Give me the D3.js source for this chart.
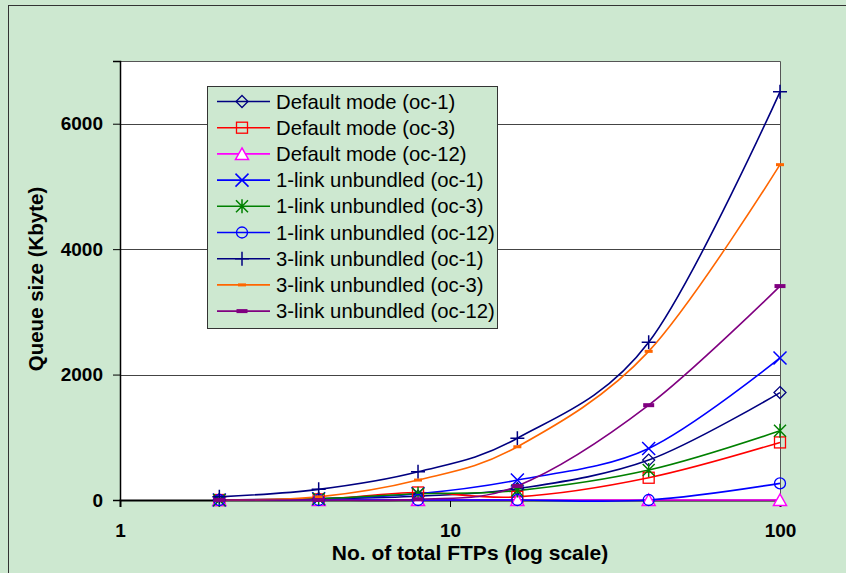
<!DOCTYPE html>
<html>
<head>
<meta charset="utf-8">
<script src="https://cdn.jsdelivr.net/npm/d3@7/dist/d3.min.js"></script>
<style>
  html, body { margin: 0; padding: 0; background: #cde8d0; }
  svg { display: block; }
  text { font-family: "Liberation Sans", Arial, sans-serif; }
</style>
</head>
<body>
<svg id="chart" width="846" height="573"></svg>
<script>
// Number of FTP sessions (x, log scale)
const ftps = [2, 4, 8, 16, 40, 100];

// Queue size in Kbyte for each configuration
const defaultOc1  = [0, 20, 60, 180, 636, 1713];
const defaultOc3  = [0, 10, 120, 50, 355, 918];
const defaultOc12 = [0, 0, 0, 0, 0, 0];
const unb1Oc1     = [0, 20, 100, 318, 822, 2265];
const unb1Oc3     = [0, 20, 100, 150, 477, 1103];
const unb1Oc12    = [0, 0, 0, 0, 0, 265];
const unb3Oc1     = [50, 170, 450, 985, 2514, 6508];
const unb3Oc3     = [0, 50, 318, 849, 2370, 5347];
const unb3Oc12    = [0, 0, 10, 223, 1512, 3411];

const seriesNames = [
  "Default mode (oc-1)", "Default mode (oc-3)", "Default mode (oc-12)",
  "1-link unbundled (oc-1)", "1-link unbundled (oc-3)", "1-link unbundled (oc-12)",
  "3-link unbundled (oc-1)", "3-link unbundled (oc-3)", "3-link unbundled (oc-12)"
];
const seriesValues = [defaultOc1, defaultOc3, defaultOc12, unb1Oc1, unb1Oc3, unb1Oc12, unb3Oc1, unb3Oc3, unb3Oc12];
const seriesColors = ["#000080", "#ff0000", "#ff00ff", "#0000ff", "#008000", "#0000ff", "#000080", "#ff6600", "#800080"];
const seriesMarkers = ["diamond", "square", "triangle", "x", "asterisk", "circle", "plus", "dash", "bar"];

const xTicks = [1, 10, 100];
const yTicks = [0, 2000, 4000, 6000];

const svg = d3.select("#chart");
const plot = { left: 120, top: 61, right: 780, bottom: 500 };

// chart area frame
svg.append("rect")
  .attr("x", 8.5).attr("y", 5.5).attr("width", 900).attr("height", 700)
  .attr("fill", "#cde8d0").attr("stroke", "#333").attr("stroke-width", 1);

const x = d3.scaleLog().domain([1, 100]).range([plot.left, plot.right]);
const y = d3.scaleLinear().domain([0, 7000]).range([plot.bottom, plot.top]);

// plot area
svg.append("rect")
  .attr("x", plot.left).attr("y", plot.top)
  .attr("width", plot.right - plot.left).attr("height", plot.bottom - plot.top)
  .attr("fill", "#ffffff");

// horizontal gridlines
svg.append("g").selectAll("line")
  .data(yTicks.filter(d => d > 0))
  .join("line")
  .attr("x1", plot.left).attr("x2", plot.right)
  .attr("y1", d => Math.round(y(d)) + 0.5).attr("y2", d => Math.round(y(d)) + 0.5)
  .attr("stroke", "#444").attr("stroke-width", 1);

// plot border (top and right)
svg.append("path")
  .attr("d", `M${plot.left},${plot.top + 0.5}H${plot.right + 0.5}V${plot.bottom}`)
  .attr("fill", "none").attr("stroke", "#555").attr("stroke-width", 1);

// y axis
const yAxis = d3.axisLeft(y).tickValues(yTicks).tickSize(7).tickPadding(10).tickFormat(d3.format("d"));
const gy = svg.append("g").attr("transform", `translate(${plot.left},0)`).call(yAxis);
gy.select(".domain").attr("stroke", "#000").attr("stroke-width", 1.5);
gy.selectAll(".tick line").attr("stroke", "#000");
gy.selectAll(".tick text")
  .attr("font-family", "Liberation Sans, Arial, sans-serif")
  .attr("font-size", 19).attr("font-weight", "bold").attr("fill", "#000");

// x axis
const xAxis = d3.axisBottom(x).tickValues(xTicks).tickSize(7).tickPadding(17).tickFormat(d3.format("d"));
const gx = svg.append("g").attr("transform", `translate(0,${plot.bottom})`).call(xAxis);
gx.select(".domain").attr("stroke", "#000").attr("stroke-width", 2);
gx.selectAll(".tick line").attr("stroke", "#000");
gx.selectAll(".tick text")
  .attr("font-family", "Liberation Sans, Arial, sans-serif")
  .attr("font-size", 19).attr("font-weight", "bold").attr("fill", "#000");

// axis titles
svg.append("text")
  .attr("x", 470).attr("y", 560)
  .attr("text-anchor", "middle")
  .attr("font-size", 21).attr("font-weight", "bold")
  .text("No. of total FTPs (log scale)");

svg.append("text")
  .attr("transform", "translate(43,279) rotate(-90)")
  .attr("text-anchor", "middle")
  .attr("font-size", 20.5).attr("font-weight", "bold")
  .text("Queue size (Kbyte)");

// marker shapes
function drawMarker(g, type, color) {
  switch (type) {
    case "diamond":
      g.append("path").attr("d", "M0,-6L6,0L0,6L-6,0Z").attr("fill", "none").attr("stroke", color).attr("stroke-width", 1.3); break;
    case "square":
      g.append("rect").attr("x", -5.5).attr("y", -5.5).attr("width", 11).attr("height", 11).attr("fill", "none").attr("stroke", color).attr("stroke-width", 1.3); break;
    case "triangle":
      g.append("path").attr("d", "M0,-6L6.5,5.5L-6.5,5.5Z").attr("fill", "#fff").attr("stroke", color).attr("stroke-width", 1.5); break;
    case "x":
      g.append("path").attr("d", "M-6.5,-6.5L6.5,6.5M-6.5,6.5L6.5,-6.5").attr("stroke", color).attr("stroke-width", 1.5); break;
    case "asterisk":
      g.append("path").attr("d", "M-6,-6L6,6M-6,6L6,-6M0,-7L0,7").attr("stroke", color).attr("stroke-width", 1.5); break;
    case "circle":
      g.append("circle").attr("r", 5.5).attr("fill", "none").attr("stroke", color).attr("stroke-width", 1.3); break;
    case "plus":
      g.append("path").attr("d", "M-7,0L7,0M0,-7L0,7").attr("stroke", color).attr("stroke-width", 1.5); break;
    case "dash":
      g.append("rect").attr("x", -4).attr("y", -1.5).attr("width", 8).attr("height", 3).attr("fill", color); break;
    case "bar":
      g.append("rect").attr("x", -5.5).attr("y", -2).attr("width", 11).attr("height", 4).attr("fill", color); break;
  }
}

// series lines (smoothed) and markers
const line = d3.line()
  .x((d, i) => x(ftps[i]))
  .y(d => y(d))
  .curve(d3.curveCardinal.tension(0));

const series = svg.append("g");
seriesValues.forEach((vals, s) => {
  series.append("path")
    .attr("d", line(vals))
    .attr("fill", "none")
    .attr("stroke", seriesColors[s])
    .attr("stroke-width", 1.6);
});
seriesValues.forEach((vals, s) => {
  vals.forEach((v, i) => {
    const g = series.append("g").attr("transform", `translate(${x(ftps[i])},${y(v)})`);
    drawMarker(g, seriesMarkers[s], seriesColors[s]);
  });
});

// legend
const legend = svg.append("g");
legend.append("rect")
  .attr("x", 207.5).attr("y", 86.5).attr("width", 290).attr("height", 242)
  .attr("fill", "#cde8d0").attr("stroke", "#333").attr("stroke-width", 1);
seriesNames.forEach((name, s) => {
  const cy = 101.5 + s * 26.2;
  const row = legend.append("g");
  row.append("line").attr("x1", 217).attr("x2", 270).attr("y1", cy).attr("y2", cy)
    .attr("stroke", seriesColors[s]).attr("stroke-width", 1.6);
  drawMarker(row.append("g").attr("transform", `translate(242,${cy})`), seriesMarkers[s], seriesColors[s]);
  row.append("text").attr("x", 276).attr("y", cy + 7)
    .attr("font-size", 20.3).attr("fill", "#000").text(name);
});
</script>
</body>
</html>
